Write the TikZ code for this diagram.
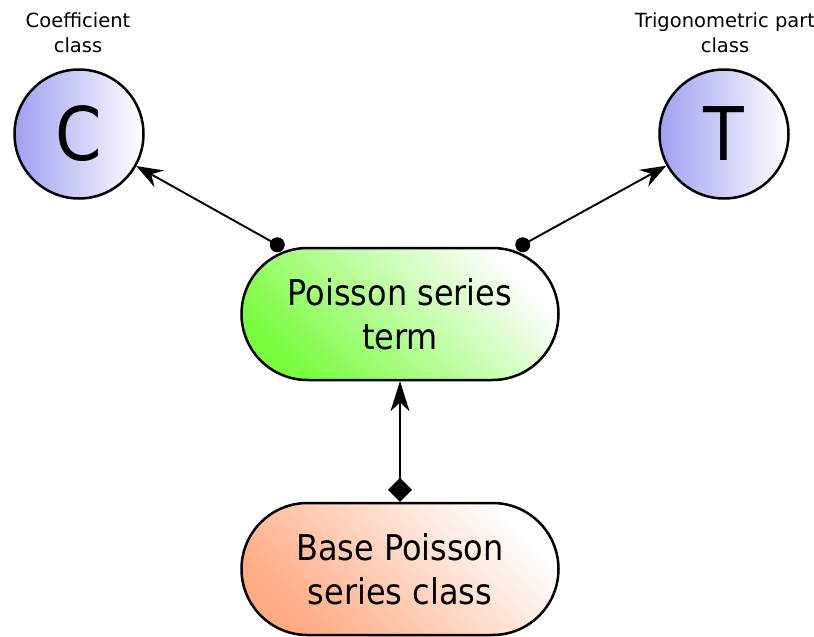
\documentclass[tikz,border=0pt]{standalone}
\usepackage{fontspec}
\setmainfont{DejaVu Sans}
\newfontfamily\condensed{DejaVu Sans Condensed}
\usetikzlibrary{arrows.meta}

\definecolor{classblue}{RGB}{160,160,242}
\definecolor{termgreen}{RGB}{122,252,62}
\definecolor{baseorange}{RGB}{255,170,130}

\tikzset{
  classnode/.style={circle, draw=black, line width=2.5pt, minimum size=129pt,
    inner sep=0pt, left color=classblue, right color=white,
    font=\condensed\fontsize{74}{80}\selectfont},
  pill/.style={rectangle, rounded corners=66pt, draw=black, line width=2.5pt,
    minimum width=317pt, minimum height=132pt, align=center, inner sep=0pt,
    font=\condensed\fontsize{35.5}{44}\selectfont},
  caption/.style={align=center, inner sep=0pt, font=\fontsize{19.5}{25}\selectfont},
  link/.style={line width=1.9pt},
  tip/.style={-{Stealth[length=26pt,width=19pt,inset=9pt]}},
}

\begin{document}
\begin{tikzpicture}[x=1pt, y=-1pt]
  \useasboundingbox (0,0) rectangle (814,637);

  % class nodes
  \node[classnode] (C) at (79,134) {C};
  \node[classnode] (T) at (724,134) {T};
  \node[caption] (Clab) at (78,33) {Coefficient\\class};
  \node[caption] (Tlab) at (725,33) {Trigonometric part\\class};

  % series term and base class
  \node[pill, bottom color=termgreen, top color=white, shading angle=-45]
    (P) at (400,314) {Poisson series\\term};
  \node[pill, bottom color=baseorange, top color=white, shading angle=-45]
    (B) at (400,569) {Base Poisson\\series class};

  % aggregation links with dot ends
  \coordinate (dl) at ([xshift=37pt,yshift=2pt]P.north west);
  \coordinate (dr) at ([xshift=-37pt,yshift=2pt]P.north east);
  \draw[link, tip] (dl) -- (C);
  \draw[link, tip] (dr) -- (T);
  \fill (dl) circle (7.5pt);
  \fill (dr) circle (7.5pt);

  % inheritance link
  \draw[link, {Diamond[length=24pt,width=24pt]}-{Stealth[length=30pt,width=19pt,inset=9pt]}]
    (B) -- (P);
\end{tikzpicture}
\end{document}
